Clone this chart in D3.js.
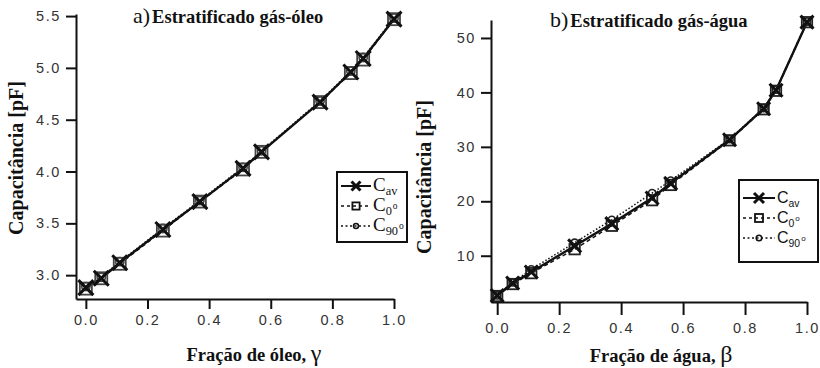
<!DOCTYPE html>
<html><head><meta charset="utf-8">
<script src="https://cdn.jsdelivr.net/npm/d3@7"></script>
<style>html,body{margin:0;padding:0;background:#fff}</style>
</head><body><div id="chart"></div>
<script>
// ---- data ----
const oilFraction = [0, 0.05, 0.11, 0.25, 0.37, 0.51, 0.57, 0.76, 0.86, 0.90, 1.0];
const oilCav  = [2.88, 2.97, 3.12, 3.44, 3.71, 4.03, 4.19, 4.67, 4.96, 5.09, 5.47];
const oilC0   = [2.87, 2.97, 3.11, 3.43, 3.71, 4.02, 4.19, 4.67, 4.95, 5.08, 5.47];
const oilC90  = [2.89, 2.98, 3.13, 3.45, 3.72, 4.04, 4.20, 4.68, 4.97, 5.10, 5.48];
const oilYTicks = [3.0, 3.5, 4.0, 4.5, 5.0, 5.5];

const waterFraction = [0, 0.05, 0.11, 0.25, 0.37, 0.50, 0.56, 0.75, 0.86, 0.90, 1.0];
const waterCav = [2.7, 5.0, 7.0, 11.8, 15.9, 20.6, 23.3, 31.3, 37.0, 40.4, 52.9];
const waterC0  = [2.6, 4.8, 6.8, 11.2, 15.5, 20.2, 23.0, 31.2, 36.9, 40.3, 52.9];
const waterC90 = [2.7, 5.1, 7.5, 12.4, 16.6, 21.5, 23.8, 31.4, 37.1, 40.5, 53.0];
const waterYTicks = [10, 20, 30, 40, 50];

const xTicks = [0, 0.2, 0.4, 0.6, 0.8, 1.0];

const svg = d3.select("#chart").append("svg").attr("width", 820).attr("height", 368);

function panel(cfg) {
  const x = d3.scaleLinear().domain(cfg.xDomain).range([cfg.x0, cfg.x1]);
  const y = d3.scaleLinear().domain(cfg.yDomain).range([cfg.y0, cfg.y1]);
  const g = svg.append("g");

  // axes
  const ax = g.append("g").attr("transform", `translate(0,${cfg.y0})`)
    .call(d3.axisBottom(x).tickValues(xTicks).tickFormat(d3.format(".1f")).tickSize(cfg.xTick).tickSizeOuter(0).tickPadding(cfg.xPad));
  const ay = g.append("g").attr("transform", `translate(${cfg.x0},0)`)
    .call(d3.axisLeft(y).tickValues(cfg.yTicks).tickFormat(cfg.yFmt).tickSize(10).tickSizeOuter(0).tickPadding(5));
  [ax, ay].forEach(a => {
    a.select(".domain").attr("stroke", "#111").attr("stroke-width", 2);
    a.selectAll(".tick line").attr("stroke", "#111").attr("stroke-width", 2);
    a.selectAll(".tick text").attr("fill", "#333").attr("font-family", "Liberation Sans, Arial, sans-serif")
      .attr("font-size", 14.5).attr("letter-spacing", "1.6px");
  });

  // series
  const series = [
    {vals: cfg.c0, dash: "4,3", w: 1.5, mark: "square"},
    {vals: cfg.c90, dash: "1.5,2", w: 1.5, mark: "circle"},
    {vals: cfg.cav, dash: null, w: 2.4, mark: "x"}
  ];
  series.forEach(s => {
    const pts = cfg.xs.map((v, i) => [x(v), y(s.vals[i])]);
    g.append("path").attr("d", d3.line()(pts)).attr("fill", "none")
      .attr("stroke", "#111").attr("stroke-width", s.w).attr("stroke-dasharray", s.dash);
  });
  series.forEach(s => {
    cfg.xs.forEach((v, i) => drawMark(g, s.mark, x(v), y(s.vals[i]), cfg.ms, cfg.markColor));
  });

  // title
  const t = g.append("text").attr("x", cfg.titleX).attr("y", cfg.titleY).attr("fill", "#111")
    .attr("font-family", "Liberation Serif, Times New Roman, serif");
  t.append("tspan").attr("font-size", 22).text(cfg.titleA);
  t.append("tspan").attr("font-size", 18.5).attr("font-weight", "bold").attr("dx", 2).text(cfg.titleB);

  // axis labels
  const xl = g.append("text").attr("x", cfg.xLabelX).attr("y", cfg.xLabelY).attr("text-anchor", "middle")
    .attr("fill", "#111").attr("font-family", "Liberation Serif, Times New Roman, serif");
  xl.append("tspan").attr("font-weight", "bold").attr("font-size", 18.5).text(cfg.xLabel);
  xl.append("tspan").attr("font-size", 24).text(cfg.xSym);
  g.append("text").attr("transform", `translate(${cfg.yLabelX},${cfg.yLabelY}) rotate(-90)`)
    .attr("text-anchor", "middle").attr("fill", "#111").attr("font-family", "Liberation Serif, Times New Roman, serif")
    .attr("font-weight", "bold").attr("font-size", 20).text("Capacitância [pF]");

  // legend
  const L = cfg.legend;
  g.append("rect").attr("x", L.x).attr("y", L.y).attr("width", L.w).attr("height", L.h)
    .attr("fill", "#fff").attr("stroke", "#111").attr("stroke-width", 2);
  const entries = [
    {mark: "x", dash: null, w: 2, sub: "av"},
    {mark: "square", dash: "3,3", w: 1.5, sub: "0", deg: true},
    {mark: "circle", dash: "2,2.5", w: 1.5, sub: "90", deg: true}
  ];
  entries.forEach((e, i) => {
    const yy = L.y + L.rowY0 + i * L.rowDy;
    g.append("line").attr("x1", L.x + 4).attr("x2", L.x + L.lineW).attr("y1", yy).attr("y2", yy)
      .attr("stroke", "#111").attr("stroke-width", e.w).attr("stroke-dasharray", e.dash);
    drawMark(g, e.mark, L.x + 4 + (L.lineW - 4) / 2, yy, L.ms, "#111");
    const tx = g.append("text").attr("x", L.x + L.lineW + 2).attr("y", yy + L.base)
      .attr("font-family", L.font).attr("fill", "#111").attr("font-size", L.fs);
    tx.append("tspan").text("C");
    tx.append("tspan").attr("font-size", L.fs * 0.65).attr("dy", 4).text(e.sub);
    if (e.deg) tx.append("tspan").attr("font-size", L.fs * 0.5).attr("dy", -6).attr("dx", 1).text("o");
  });
}

function drawMark(g, type, cx, cy, s, col) {
  const h = s / 2;
  if (type === "square") {
    g.append("rect").attr("x", cx - h * 0.8).attr("y", cy - h * 0.8).attr("width", h * 1.6).attr("height", h * 1.6)
      .attr("fill", "none").attr("stroke", col).attr("stroke-width", 1.8);
  } else if (type === "circle") {
    g.append("circle").attr("cx", cx).attr("cy", cy).attr("r", h * 0.55)
      .attr("fill", "none").attr("stroke", col).attr("stroke-width", 1.6);
  } else {
    g.append("path").attr("d", `M${cx - h},${cy - h}L${cx + h},${cy + h}M${cx - h},${cy + h}L${cx + h},${cy - h}`)
      .attr("stroke", "#111").attr("stroke-width", 3).attr("stroke-linecap", "butt");
  }
}

panel({
  xs: oilFraction, cav: oilCav, c0: oilC0, c90: oilC90,
  xDomain: [-0.032, 1.0], yDomain: [2.77, 5.52],
  x0: 76, x1: 394, y0: 299, y1: 14,
  yTicks: oilYTicks, yFmt: d3.format(".1f"), xTick: 10, xPad: 6,
  ms: 15, markColor: "#444",
  titleX: 133, titleY: 23, titleA: "a)", titleB: "Estratificado gás-óleo",
  xLabel: "Fração de óleo, ", xSym: "γ", xLabelX: 254, xLabelY: 361,
  yLabelX: 23, yLabelY: 158,
  legend: {x: 337, y: 172, w: 70, h: 70, rowY0: 14, rowDy: 20, lineW: 34, ms: 9, fs: 19, base: 5,
    font: "Liberation Serif, Times New Roman, serif"}
});

panel({
  xs: waterFraction, cav: waterCav, c0: waterC0, c90: waterC90,
  xDomain: [-0.02, 1.0], yDomain: [1.5, 53.3],
  x0: 491, x1: 807, y0: 302, y1: 20,
  yTicks: waterYTicks, yFmt: d3.format("d"), xTick: 13, xPad: 8,
  ms: 13, markColor: "#222",
  titleX: 550, titleY: 27, titleA: "b)", titleB: "Estratificado gás-água",
  xLabel: "Fração de água, ", xSym: "β", xLabelX: 661, xLabelY: 362,
  yLabelX: 431, yLabelY: 177,
  legend: {x: 739, y: 180, w: 79, h: 82, rowY0: 18, rowDy: 20, lineW: 36, ms: 10, fs: 16, base: 5,
    font: "Liberation Sans, Arial, sans-serif"}
});
</script></body></html>
